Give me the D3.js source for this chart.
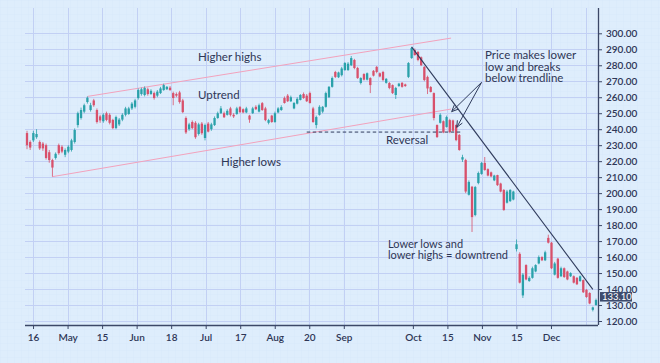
<!DOCTYPE html>
<html>
<head>
<meta charset="utf-8">
<script src="https://cdn.jsdelivr.net/npm/d3@7"></script>
<style>
  html, body { margin: 0; padding: 0; background: #deedfc; }
  svg { display: block; font-family: Lato, 'Open Sans', sans-serif; }
  .ann { fill: #2e3656; font-size: 11.5px; }
  .axis path, .axis line { stroke: #3b4767; }
  .axis text { fill: #2e3656; font-size: 10px; font-weight: 600; font-family: Lato, sans-serif; }
</style>
</head>
<body>
<div class="chart"></div>
<script>
var opens = [
  237.6,232,233,235,232,231,230,225.6,220.7,222,
  230,229,224,226,227,232,242.6,247,251,257,
  252,258,252,248,245,250,249,245.8,240.7,243,
  246,249,249.5,253,254,259.5,262,261.4,265,262,
  262.6,261,262.6,264.5,265,266,262.6,262,263,258,
  247,240,244.5,244,237,243.5,234.5,243.5,240,242.6,
  247,250,250,249,253,249,249.5,253.8,252.5,250.5,
  248.5,250,254,251,256.3,253,244,248.5,244.5,250.5,
  252,259.5,261,257.5,253,256,258.3,262,261,262.6,
  253,242.6,249,251,254,260,266.5,275.8,272.5,273.8,
  277,277,280,283.3,278.3,268.9,274.5,271,272,276.5,
  279,275,275.8,269,268.9,267.6,261.4,267,269,268,
  272.7,284.5,289.5,288.3,285,279,272.7,266.4,262.6,242.6,
  244,245,241.4,245.7,245.5,242.6,236.4,221,220.7,199,
  204,186.3,206.3,212,218.9,215,213,208,211.3,206,
  202,194,195,196,165,162,136,155,145,147,
  151,156,160,158,172,169,149,159,148,153,
  151,148,148,147,145,145.6,139.5,137.5,127,130
];
var highs = [
  239,233,239,240,233,232,231,227,221.5,225.5,
  231,230,228,230,234,240.5,251,253.5,256,260.5,
  256.5,259,253,249,250,251,250,246.5,248.5,247,
  250,254,254,257,259,265.5,266,266.8,266,265,
  263.5,264.5,266.5,268.5,267,267,263.5,263,264,259,
  248,244,245.5,245,244,244.5,243.5,244.5,244,248,
  251,254.5,251,252.5,254,250,254,254.5,253,254,
  249,254,255,256,257,254,246.5,249,251,253.8,
  255,260.5,262,261,257,260,262,263,262,263.5,
  254,248.5,255,254.5,263.5,267,273,276.5,276,279,
  282,282,285.8,284,279,272.5,275,275.5,272.5,277,
  279.5,275.5,276.5,272,269.5,268,266.5,269,269.5,268.5,
  282,291.5,290.5,289,285.5,279.5,273.5,267,263,243,
  250,245.5,248.5,246.5,246,243,237,224,221.5,208,
  204.5,204.5,213.5,219.5,222.6,215.5,213.5,211.5,211.5,206.5,
  202.5,202,202.5,201.5,171,163,150,155.5,148,154,
  155.5,161,160.5,164,174,169.5,157,159.5,154,153.5,
  151.5,150.5,148.5,147.5,148.5,146,140,138,129,134
];
var lows = [
  227.5,227,232,234,227,226.5,221,219,210.3,221,
  224,225,222.5,225,226,231,241,246,250,256,
  251,254,243.5,244,244,245,243,240,240,242,
  245,248,249,252,253,258.5,261,260.5,261,261.5,
  258.5,260,262,264,264.5,264,255,260,256,250,
  237,239,240,234,236,236.5,233,238,239,242,
  246.5,249.5,247,248.5,248,247,249,250,250,250,
  244,249.5,252,250.5,251.5,245,243,244,244,250,
  251.5,256,257,257,252.5,255.5,258,259,257,256,
  244,240.5,248.5,250,253.5,259.5,266,272,272,273,
  276.5,276.5,279.5,277.5,271.5,268,270.5,270.5,262.6,273,
  275,272.5,270,268.5,265,262,258.9,266.5,266,266.5,
  272,284,286,282.5,279.5,270,262,263,245.5,234.5,
  243.5,237.5,241,237.5,238.5,232.5,226.5,219.5,200,198.5,
  175.7,185.5,205.5,211.5,214,210.5,210,207.5,204.5,200.5,
  189,193.5,194.5,195.5,163.5,143.5,134.4,145.5,144.5,146.5,
  150.5,155.5,157.5,157.5,168.5,152.5,148.5,146.5,147.5,147,
  145.5,147.5,143.5,142.5,144.5,137.5,134.5,130.5,126,129.5
];
var closes = [
  230,228.5,237.6,237,228,228,222,220.7,216,224.6,
  225,226,227,229,233,239.5,250,252,255,259.7,
  255,255,244.5,245.5,249,245.8,244,240.7,247.6,246,
  249,253,253,256,258,264.5,265,265.8,262,264,
  259.5,263.5,265.5,267.6,266.5,264.5,259.5,261,257,250.7,
  238,243,240.7,235,243,237.5,242.6,238.5,243,247,
  250,253,247.5,251.5,249,248,253,250.7,250.5,253,
  246,253,252.5,255,252,245.7,245.7,244.5,250,253,
  253.8,256.4,257.5,260,256.4,259,261.4,259.5,257.5,256.4,
  244.5,247.6,254,254,262.6,266.5,272,272.7,275.5,278,
  281.4,281,284.5,278.3,272,272,271,275,267.6,273.5,
  275.8,273,270.8,271.5,265.8,262.6,265.8,268.5,266.5,267,
  281.4,290.8,286.4,283.3,280,270.8,265.5,263.3,247,235.1,
  249,238,247.6,238.2,239,233.2,227,222.5,201,207,
  185,203.8,212.6,218.9,214.5,211,210.5,211,205,201,
  189.4,201,202,201,168,144,149,146,147,153,
  155,160,158,163,169,153,156,147,153,147.5,
  146,150,144,143,148,138,135,131,128.5,133.1
];

// half-month date labels along the bottom ('' = grid line without label)
var tickLabels = ['16','May','15','Jun','18','Jul','17','Aug','20','Sep','','Oct','15','Nov','15','Dec',''];
var priceTicks = [120,130,140,150,160,170,180,190,200,210,220,230,240,250,260,270,280,290,300];
var lastPrice = 133.10;

// trend lines as [candle index, price]
var highsLine = [[19, 260.5], [133.4, 297]];
var lowsLine = [[8, 210.3], [133.4, 252.6]];
var downLine = [[121, 291.5], [178, 139.8]];
var reversalLine = [[88, 238.2], [137, 238.2]];
var arrowFrom = [143, 269.3];
var arrowTo = [[133.6, 251], [135.2, 241.2]];

function init() {
  var width = 660,
      height = 363,
      left = 25,
      right = 598,
      top = 8,
      bottom = 325,
      bodyW = 2.3,
      teal = '#2aa1aa',
      red = '#d8506b',
      pink = '#f2a2bc',
      navy = '#2f3b5c';

  var svg = d3.select('.chart')
    .append('svg')
      .attr('width', width)
      .attr('height', height);

  var defs = svg.append('defs');
  var pat = defs.append('pattern')
      .attr('id', 'paper')
      .attr('width', 7)
      .attr('height', 7)
      .attr('patternUnits', 'userSpaceOnUse');
  pat.append('path')
      .attr('d', 'M7,0 L0,0 L0,7')
      .attr('fill', 'none')
      .attr('stroke', '#cfe0fa')
      .attr('stroke-width', 0.6)
      .attr('opacity', 0.55);

  svg.append('rect')
      .attr('width', width)
      .attr('height', height)
      .attr('fill', '#deedfc');
  svg.append('rect')
      .attr('width', width)
      .attr('height', height)
      .attr('fill', 'url(#paper)');

  var x = d3.scaleLinear().domain([0, opens.length - 1]).range([27, 596]);
  var y = d3.scaleLinear().domain([120, 300]).range([321, 33.3]);
  var slot = d3.scaleLinear().domain([0, tickLabels.length - 1]).range([x(1.9), x(175.7)]);

  // grid
  svg.append('g').selectAll('line')
    .data(priceTicks)
    .enter().append('line')
      .attr('x1', left).attr('x2', right)
      .attr('y1', function(d) { return Math.round(y(d)) + 0.5; })
      .attr('y2', function(d) { return Math.round(y(d)) + 0.5; })
      .attr('stroke', '#c2d0f4');
  svg.append('g').selectAll('line')
    .data(tickLabels)
    .enter().append('line')
      .attr('y1', top).attr('y2', bottom)
      .attr('x1', function(d, i) { return Math.round(slot(i)) + 0.5; })
      .attr('x2', function(d, i) { return Math.round(slot(i)) + 0.5; })
      .attr('stroke', '#c2d0f4');

  // trend lines under the candles
  function line(pts) {
    return d3.line()
      .x(function(d) { return x(d[0]); })
      .y(function(d) { return y(d[1]); })(pts);
  }
  svg.append('path').attr('d', line(highsLine)).attr('stroke', pink).attr('fill', 'none');
  svg.append('path').attr('d', line(lowsLine)).attr('stroke', pink).attr('fill', 'none');

  // candles
  var idx = d3.range(opens.length);
  var candles = svg.append('g').selectAll('g')
    .data(idx)
    .enter().append('g')
      .attr('fill', function(i) { return closes[i] >= opens[i] ? teal : red; })
      .attr('stroke', function(i) { return closes[i] >= opens[i] ? teal : red; });
  candles.append('line')
      .attr('x1', function(i) { return x(i); })
      .attr('x2', function(i) { return x(i); })
      .attr('y1', function(i) { return y(highs[i]); })
      .attr('y2', function(i) { return y(lows[i]); })
      .attr('stroke-width', 0.8);
  candles.append('rect')
      .attr('stroke', 'none')
      .attr('x', function(i) { return x(i) - bodyW / 2; })
      .attr('width', bodyW)
      .attr('y', function(i) { return y(Math.max(opens[i], closes[i])); })
      .attr('height', function(i) { return Math.max(1, Math.abs(y(opens[i]) - y(closes[i]))); });

  svg.append('path').attr('d', line(reversalLine))
      .attr('stroke', navy).attr('stroke-dasharray', '3.5,2.5').attr('fill', 'none');
  svg.append('path').attr('d', line(downLine))
      .attr('stroke', navy).attr('stroke-width', 1.1).attr('fill', 'none');

  // arrows
  arrowTo.forEach(function(t) {
    var x0 = x(arrowFrom[0]), y0 = y(arrowFrom[1]), x1 = x(t[0]), y1 = y(t[1]);
    var a = Math.atan2(y0 - y1, x0 - x1), len = 7;
    svg.append('path')
        .attr('d', 'M' + x0 + ',' + y0 + 'L' + x1 + ',' + y1 +
              'M' + (x1 + len * Math.cos(a + 0.42)) + ',' + (y1 + len * Math.sin(a + 0.42)) +
              'L' + x1 + ',' + y1 +
              'L' + (x1 + len * Math.cos(a - 0.42)) + ',' + (y1 + len * Math.sin(a - 0.42)))
        .attr('stroke', navy).attr('fill', 'none').attr('stroke-width', 1);
  });

  // axes
  var yAxis = svg.append('g')
      .attr('class', 'axis')
      .attr('transform', 'translate(' + right + ',0)')
      .call(d3.axisRight(y).tickValues(priceTicks).tickFormat(d3.format('.2f')).tickSize(4).tickPadding(4));
  yAxis.select('.domain').attr('d', 'M0.5,' + top + 'V' + bottom).attr('stroke-width', 1.3);

  var xAxis = svg.append('g')
      .attr('class', 'axis')
      .attr('transform', 'translate(0,' + bottom + ')')
      .call(d3.axisBottom(slot)
        .tickValues(d3.range(tickLabels.length).filter(function(i) { return tickLabels[i]; }))
        .tickFormat(function(i) { return tickLabels[i]; })
        .tickSize(4).tickPadding(5));
  xAxis.select('.domain').attr('d', 'M' + left + ',0.5H' + right).attr('stroke-width', 1.3);

  // last price tag, squeezed between the 140 and 130 labels as in the source
  var tagY = y(lastPrice) - 3.5;
  svg.append('rect')
      .attr('x', right + 2).attr('y', tagY - 4.5)
      .attr('width', 32).attr('height', 9.5)
      .attr('fill', '#3d4b6d');
  svg.append('text')
      .attr('x', right + 4).attr('y', tagY + 3.3)
      .attr('fill', '#ffffff')
      .style('font-size', '9.5px')
      .text(d3.format('.2f')(lastPrice));

  // annotations
  var notes = [
    { x: 198, y: 61, size: 11.5, lead: 11, lines: ['Higher highs'] },
    { x: 198, y: 99, size: 11.5, lead: 11, lines: ['Uptrend'] },
    { x: 221, y: 166, size: 11.5, lead: 11, lines: ['Higher lows'] },
    { x: 386, y: 144, size: 11.5, lead: 11, lines: ['Reversal'] },
    { x: 485, y: 59, size: 11.5, lead: 11.5, lines: ['Price makes lower', 'low and breaks', 'below trendline'] },
    { x: 388, y: 247.5, size: 11, lead: 11.5, lines: ['Lower lows and', 'lower highs = downtrend'] }
  ];
  notes.forEach(function(n) {
    var t = svg.append('text').attr('class', 'ann').attr('x', n.x).attr('y', n.y)
        .style('font-size', n.size + 'px');
    n.lines.forEach(function(s, k) {
      t.append('tspan').attr('x', n.x).attr('dy', k ? n.lead : 0).text(s);
    });
  });
}

d3.select(window).on('load', init);
</script>
</body>
</html>
